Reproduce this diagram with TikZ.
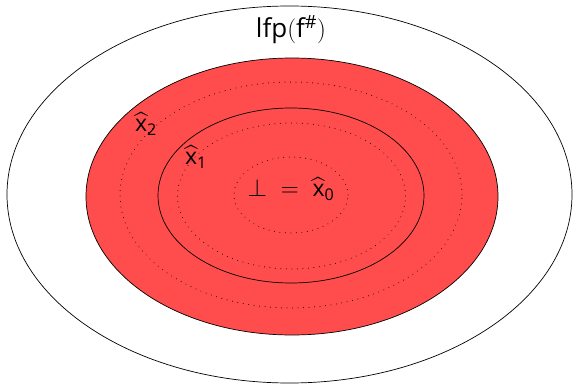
\documentclass[tikz,border=0pt]{standalone}
\usepackage{amsmath}
\usepackage{fontspec}
\setmainfont{Open Sans}
\definecolor{fillred}{RGB}{255,77,77}
\begin{document}
\begin{tikzpicture}[x=1pt,y=-1pt,
  ring/.style={line width=0.7pt},
  dotring/.style={line width=1pt, dash pattern=on 0.01pt off 5.5pt, line cap=round},
  lbl/.style={inner sep=0pt, font=\fontsize{23}{27}\selectfont}]
\useasboundingbox (0,0) rectangle (573,385);
\draw[ring] (289.5,194.5) ellipse [x radius=282.5pt, y radius=188.5pt];
\fill[fillred] (292,196.5) ellipse [x radius=206pt, y radius=138.5pt];
\draw[ring] (292,196.5) ellipse [x radius=206pt, y radius=138.5pt];
\draw[dotring] (291,195) ellipse [x radius=171pt, y radius=113pt];
\draw[ring] (291,195.5) ellipse [x radius=133pt, y radius=87.5pt];
\draw[dotring] (291.5,196) ellipse [x radius=114pt, y radius=73pt];
\draw[dotring] (291,195) ellipse [x radius=57pt, y radius=38pt];
\node[lbl, font=\fontsize{26}{30}\selectfont] (lfp) at (291,30) {lfp$($f$^{\#})$};
\node[lbl] (x2) at (146,124) {$\widehat{\text{x}}_{\text{2}}$};
\node[lbl] (x1) at (196,157) {$\widehat{\text{x}}_{\text{1}}$};
\node[lbl] (x0) at (291,189) {$\bot\;=\;\widehat{\text{x}}_{\text{0}}$};
\end{tikzpicture}
\end{document}
